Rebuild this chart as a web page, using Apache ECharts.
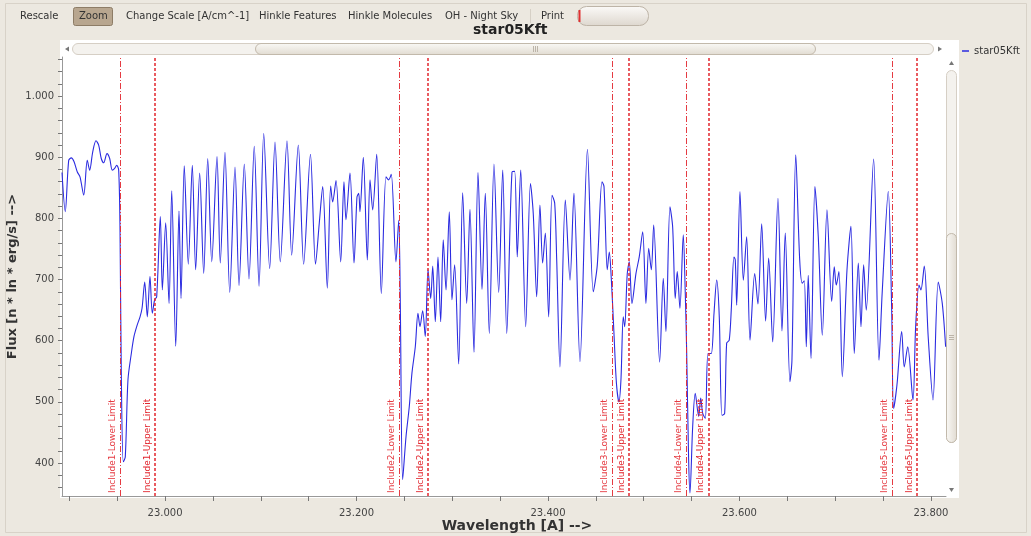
<!DOCTYPE html>
<html>
<head>
<meta charset="utf-8">
<script src="https://cdn.jsdelivr.net/npm/echarts@6/dist/echarts.min.js"></script>
<style>
  html, body { margin: 0; padding: 0; background: #ece8e0; }
  #chart { width: 1031px; height: 536px; }
</style>
</head>
<body>
<div id="chart"></div>
<script>
// spectrum: wavelength [A] and flux
const wavelength = [
  22.8924, 22.8958, 22.8994, 22.9021, 22.9049, 22.9084, 22.9112, 22.9151, 22.9188, 22.9213,
  22.9245, 22.9279, 22.9307, 22.9334, 22.9360, 22.9394, 22.9422, 22.9449, 22.9474, 22.9495,
  22.9516, 22.9530, 22.9543, 22.9564, 22.9585, 22.9613, 22.9648, 22.9676, 22.9710, 22.9739,
  22.9760, 22.9788, 22.9815, 22.9843, 22.9867, 22.9892, 22.9913, 22.9951, 22.9972, 23.0007,
  23.0042, 23.0070, 23.0112, 23.0146, 23.0167, 23.0201, 23.0243, 23.0285, 23.0320, 23.0362,
  23.0404, 23.0446, 23.0488, 23.0543, 23.0577, 23.0626, 23.0676, 23.0731, 23.0773, 23.0828,
  23.0877, 23.0932, 23.0982, 23.1031, 23.1093, 23.1149, 23.1204, 23.1274, 23.1323, 23.1392,
  23.1448, 23.1519, 23.1572, 23.1611, 23.1647, 23.1695, 23.1730, 23.1751, 23.1786, 23.1835,
  23.1869, 23.1890, 23.1932, 23.1974, 23.2005, 23.2023, 23.2036, 23.2071, 23.2113, 23.2141,
  23.2169, 23.2211, 23.2259, 23.2308, 23.2336, 23.2363, 23.2412, 23.2441, 23.2457, 23.2482,
  23.2517, 23.2551, 23.2579, 23.2614, 23.2642, 23.2663, 23.2691, 23.2718, 23.2747, 23.2775,
  23.2796, 23.2823, 23.2851, 23.2879, 23.2906, 23.2935, 23.2969, 23.2997, 23.3025, 23.3067,
  23.3109, 23.3151, 23.3185, 23.3227, 23.3269, 23.3311, 23.3345, 23.3387, 23.3436, 23.3485,
  23.3527, 23.3569, 23.3624, 23.3652, 23.3679, 23.3715, 23.3767, 23.3817, 23.3846, 23.3882,
  23.3916, 23.3944, 23.3972, 23.4007, 23.4042, 23.4070, 23.4091, 23.4125, 23.4181, 23.4230,
  23.4271, 23.4334, 23.4412, 23.4473, 23.4515, 23.4564, 23.4585, 23.4619, 23.4640, 23.4661,
  23.4689, 23.4715, 23.4741, 23.4762, 23.4786, 23.4801, 23.4828, 23.4849, 23.4877, 23.4919,
  23.4953, 23.4989, 23.5023, 23.5052, 23.5079, 23.5104, 23.5166, 23.5204, 23.5232, 23.5274,
  23.5302, 23.5329, 23.5350, 23.5378, 23.5413, 23.5434, 23.5448, 23.5469, 23.5483, 23.5511,
  23.5538, 23.5574, 23.5595, 23.5616, 23.5643, 23.5671, 23.5705, 23.5734, 23.5762, 23.5789,
  23.5817, 23.5845, 23.5866, 23.5893, 23.5914, 23.5942, 23.5956, 23.5971, 23.6005, 23.6040,
  23.6075, 23.6110, 23.6159, 23.6193, 23.6232, 23.6273, 23.6305, 23.6347, 23.6402, 23.6444,
  23.6478, 23.6527, 23.6548, 23.6588, 23.6629, 23.6656, 23.6677, 23.6698, 23.6718, 23.6747,
  23.6788, 23.6823, 23.6865, 23.6914, 23.6963, 23.6990, 23.7011, 23.7039, 23.7074, 23.7123,
  23.7164, 23.7199, 23.7241, 23.7269, 23.7297, 23.7324, 23.7401, 23.7457, 23.7491, 23.7554,
  23.7589, 23.7610, 23.7645, 23.7694, 23.7721, 23.7757, 23.7812, 23.7840, 23.7875, 23.7895,
  23.7930, 23.7972, 23.8021, 23.8076, 23.8118, 23.8153
];
const flux = [
  875, 811, 895, 899, 893, 876, 868, 838, 895, 879,
  909, 927, 920, 898, 891, 906, 898, 879, 882, 887,
  879, 781, 552, 402, 410, 536, 579, 607, 626, 639,
  653, 696, 639, 705, 645, 667, 672, 803, 683, 793,
  661, 845, 591, 812, 669, 886, 725, 887, 716, 874,
  710, 898, 729, 901, 727, 908, 679, 884, 690, 889,
  701, 918, 689, 939, 718, 925, 729, 927, 740, 920,
  725, 905, 725, 792, 852, 686, 853, 827, 862, 729,
  860, 798, 874, 727, 835, 841, 811, 900, 732, 863,
  814, 905, 677, 868, 863, 872, 729, 797, 667, 373,
  443, 492, 547, 590, 645, 623, 649, 607, 716, 669,
  722, 631, 737, 631, 765, 683, 811, 667, 724, 562,
  842, 661, 815, 581, 875, 684, 841, 612, 889, 679,
  879, 612, 876, 877, 737, 879, 623, 857, 808, 672,
  822, 727, 776, 639, 838, 825, 732, 557, 830, 699,
  841, 566, 913, 680, 724, 860, 852, 716, 745, 702,
  612, 530, 500, 536, 639, 623, 710, 729, 661, 710,
  737, 778, 661, 751, 716, 789, 565, 702, 615, 819,
  786, 669, 713, 653, 773, 677, 585, 405, 351, 459,
  514, 476, 506, 481, 473, 579, 579, 645, 699, 639,
  478, 481, 596, 601, 650, 737, 732, 658, 844, 699,
  770, 601, 710, 660, 791, 632, 735, 598, 833, 616,
  776, 533, 568, 904, 732, 694, 698, 590, 707, 571,
  852, 770, 609, 814, 664, 721, 691, 713, 541, 716,
  787, 579, 727, 623, 724, 650, 897, 568, 680, 844,
  656, 489, 528, 615, 557, 590, 503, 623, 691, 683,
  722, 604, 503, 696, 661, 590
];

// include limits (vertical markers)
const limitNames = [
  'Include1-Lower Limit', 'Include1-Upper Limit',
  'Include2-Lower Limit', 'Include2-Upper Limit',
  'Include3-Lower Limit', 'Include3-Upper Limit',
  'Include4-Lower Limit', 'Include4-Upper Limit',
  'Include5-Lower Limit', 'Include5-Upper Limit'
];
const limitWaves = [22.9533, 22.9892, 23.2447, 23.2747, 23.4671, 23.4846, 23.5444, 23.5678, 23.7596, 23.7854];

// axis ticks / labels
const xLabels = [23.0, 23.2, 23.4, 23.6, 23.8];
const xTicks = [22.90, 22.95, 23.00, 23.05, 23.10, 23.15, 23.20, 23.25, 23.30, 23.35,
                23.40, 23.45, 23.50, 23.55, 23.60, 23.65, 23.70, 23.75, 23.80];
const yLabels = [400, 500, 600, 700, 800, 900, 1000];
const yTicks = [360, 380, 400, 420, 440, 460, 480, 500, 520, 540, 560, 580, 600, 620, 640, 660,
                680, 700, 720, 740, 760, 780, 800, 820, 840, 860, 880, 900, 920, 940, 960, 980,
                1000, 1020, 1040, 1060];

const xMin = 22.8924, xMax = 23.8157;
const yMin = 346, yMax = 1064;

function fmtFlux (v) {
  if (v >= 1000) return Math.floor(v / 1000) + '.' + String(v % 1000).padStart(3, '0');
  return String(v);
}

const FONT = '"DejaVu Sans", sans-serif';
const RED = '#e2262e';
const tb = (text, x) => ({
  type: 'text', x: x, y: 16,
  style: { text: text, font: '10px ' + FONT, fill: '#333', textVerticalAlign: 'middle', verticalAlign: 'middle' }
});

let option = {
  animation: false,
  backgroundColor: '#ece8e0',
  textStyle: { fontFamily: FONT },
  title: {
    text: 'star05Kft', left: 468, top: 18,
    textStyle: { fontSize: 14, fontWeight: 'bold', color: '#222', fontFamily: FONT }
  },
  legend: {
    data: ['star05Kft'], left: 957, top: 41,
    icon: 'rect', itemWidth: 7, itemHeight: 1.5, itemGap: 4,
    textStyle: { fontSize: 10, color: '#333' }
  },
  grid: { left: 62, top: 57, width: 884, height: 439, outerBoundsMode: 'none' },
  xAxis: {
    type: 'value', min: xMin, max: xMax,
    name: 'Wavelength [A] -->', nameLocation: 'middle', nameGap: 23, nameMoveOverlap: false,
    nameTextStyle: { fontWeight: 'bold', fontSize: 14, color: '#333', padding: [0, 0, 0, 26] },
    axisLine: { show: true, onZero: false, lineStyle: { color: '#999' } },
    axisTick: { show: true, customValues: xTicks, length: 5, lineStyle: { color: '#777' } },
    axisLabel: { customValues: xLabels, formatter: v => v.toFixed(3), fontSize: 10, color: '#444', margin: 12 },
    splitLine: { show: false }
  },
  yAxis: {
    type: 'value', min: yMin, max: yMax,
    name: 'Flux [n * ln * erg/s] -->', nameLocation: 'middle', nameGap: 43, nameMoveOverlap: false,
    nameTextStyle: { fontWeight: 'bold', fontSize: 13, color: '#333' },
    axisLine: { show: true, onZero: false, lineStyle: { color: '#999' } },
    axisTick: { show: true, customValues: yTicks, length: 4, lineStyle: { color: '#777' } },
    axisLabel: { customValues: yLabels, formatter: fmtFlux, fontSize: 10, color: '#444', margin: 8 },
    splitLine: { show: false }
  },
  series: [
    {
      name: 'star05Kft',
      type: 'line',
      z: 2,
      data: wavelength.map((w, i) => [w, flux[i]]),
      showSymbol: false,
      smooth: 0.3,
      lineStyle: { color: '#2b2be0', width: 1.1 },
      itemStyle: { color: '#2b2be0' }
    },
    {
      // markers drawn on their own layer above the spectrum
      name: 'limits',
      type: 'line',
      z: 5,
      data: [],
      markLine: {
        silent: true,
        symbol: 'none',
        animation: false,
        precision: 6,
        lineStyle: { color: RED, opacity: 1 },
        data: limitWaves.map((w, i) => ({
          xAxis: w,
          name: limitNames[i],
          lineStyle: i % 2 === 0
            ? { color: RED, width: 1, type: [6, 2, 1, 2], opacity: 0.9 }
            : { color: RED, width: 1.5, type: [3, 2], opacity: 1 }
        })),
        label: {
          show: true, formatter: '{b}', position: 'insideStartTop',
          color: RED, fontSize: 9, fontFamily: FONT, distance: 3
        }
      }
    }
  ],
  graphic: [
    // frame + white plot panel
    { type: 'rect', z: -20, shape: { x: 5.5, y: 3.5, width: 1021, height: 529 }, style: { fill: 'none', stroke: '#d8d2c8' } },
    { type: 'rect', z: -10, shape: { x: 60, y: 40, width: 899, height: 458 }, style: { fill: '#fff' } },
    // toolbar
    tb('Rescale', 20),
    { type: 'rect', shape: { x: 73.5, y: 7.5, width: 39, height: 18, r: 2 }, style: { fill: '#b8a68f', stroke: '#8d7c66' } },
    tb('Zoom', 79),
    tb('Change Scale [A/cm^-1]', 126),
    tb('Hinkle Features', 259),
    tb('Hinkle Molecules', 348),
    tb('OH - Night Sky', 445),
    { type: 'line', shape: { x1: 530.5, y1: 9, x2: 530.5, y2: 23 }, style: { stroke: '#d6d0c6' } },
    tb('Print', 541),
    { type: 'rect', shape: { x: 577.5, y: 6.5, width: 71, height: 19, r: 9 },
      style: { fill: new echarts.graphic.LinearGradient(0, 0, 0, 1, [{ offset: 0, color: '#fbfaf8' }, { offset: 1, color: '#ddd7ce' }]), stroke: '#bdb4a7' } },
    { type: 'line', shape: { x1: 579.5, y1: 10, x2: 579.5, y2: 22 }, style: { stroke: '#e03030', lineWidth: 2 } },
    // horizontal scrollbar
    { type: 'rect', shape: { x: 72.5, y: 43.5, width: 861, height: 11, r: 5.5 }, style: { fill: '#f4f2ee', stroke: '#d6cfc5' } },
    { type: 'polygon', shape: { points: [[65, 49], [69, 46.5], [69, 51.5]] }, style: { fill: '#777' } },
    { type: 'polygon', shape: { points: [[942, 49], [938, 46.5], [938, 51.5]] }, style: { fill: '#777' } },
    { type: 'rect', shape: { x: 255.5, y: 43.5, width: 560, height: 11, r: 5.5 },
      style: { fill: new echarts.graphic.LinearGradient(0, 0, 0, 1, [{ offset: 0, color: '#faf9f6' }, { offset: 1, color: '#e1dbd1' }]), stroke: '#c2b9ab' } },
    { type: 'line', shape: { x1: 533.5, y1: 46, x2: 533.5, y2: 52 }, style: { stroke: '#bcb4a8' } },
    { type: 'line', shape: { x1: 535.5, y1: 46, x2: 535.5, y2: 52 }, style: { stroke: '#bcb4a8' } },
    { type: 'line', shape: { x1: 537.5, y1: 46, x2: 537.5, y2: 52 }, style: { stroke: '#bcb4a8' } },
    // vertical scrollbar
    { type: 'polygon', shape: { points: [[951.5, 61], [949, 65], [954, 65]] }, style: { fill: '#777' } },
    { type: 'rect', shape: { x: 946.5, y: 70.5, width: 10, height: 372, r: 5 }, style: { fill: '#f4f2ee', stroke: '#d6cfc5' } },
    { type: 'rect', shape: { x: 946.5, y: 233.5, width: 10, height: 209, r: 5 },
      style: { fill: new echarts.graphic.LinearGradient(0, 0, 1, 0, [{ offset: 0, color: '#faf9f6' }, { offset: 1, color: '#e1dbd1' }]), stroke: '#c2b9ab' } },
    { type: 'line', shape: { x1: 949, y1: 335.5, x2: 954, y2: 335.5 }, style: { stroke: '#bcb4a8' } },
    { type: 'line', shape: { x1: 949, y1: 337.5, x2: 954, y2: 337.5 }, style: { stroke: '#bcb4a8' } },
    { type: 'line', shape: { x1: 949, y1: 339.5, x2: 954, y2: 339.5 }, style: { stroke: '#bcb4a8' } },
    { type: 'polygon', shape: { points: [[951.5, 492], [949, 488], [954, 488]] }, style: { fill: '#777' } }
  ]
};

let myChart = echarts.init(document.getElementById('chart'));
myChart.setOption(option);
</script>
</body>
</html>
